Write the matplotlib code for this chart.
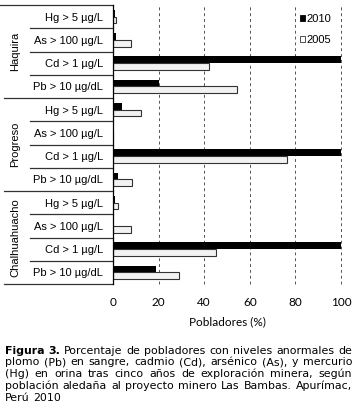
import matplotlib
matplotlib.use("Agg")
import matplotlib.pyplot as plt
from matplotlib.patches import Patch
from matplotlib.transforms import blended_transform_factory

W, H = 357, 420

GROUPS = ["Haquira", "Progreso", "Chalhuahuacho"]
METALS = ["Hg > 5 µg/L", "As > 100 µg/L", "Cd > 1 µg/L", "Pb > 10 µg/dL"]
V2010 = [0.8, 1.3, 100, 20.0, 4.1, 0, 100, 2.0, 0.9, 0, 100, 19.0]
V2005 = [1.3, 7.9, 42.1, 54.4, 12.3, 0, 76.1, 8.2, 2.0, 7.9, 45.3, 29.1]
XTICKS = [0, 20, 40, 60, 80, 100]
CAPTION = [
    "Figura 3. Porcentaje de pobladores con niveles anormales de",
    "plomo (Pb) en sangre, cadmio (Cd), arsénico (As), y mercurio",
    "(Hg) en orina tras cinco años de exploración minera, según",
    "población aledaña al proyecto minero Las Bambas. Apurímac,",
    "Perú 2010",
]
CAP_FS = 7.9

plt.rcParams["font.family"] = ["Liberation Sans", "DejaVu Sans"]

fig = plt.figure(figsize=(W / 100, H / 100), dpi=100)
ax = fig.add_axes([113 / W, 1 - 284 / H, 228 / W, 279 / H])

labels = METALS * len(GROUPS)
n = len(labels)
y = list(range(n))
bh = 0.29
ax.barh([i - bh / 2 for i in y], V2010, height=bh, color="black", linewidth=0)
ax.barh([i + bh / 2 for i in y], V2005, height=bh, color="#f2f2f2",
        edgecolor="#333333", linewidth=0.8)

ax.set_ylim(n - 0.5, -0.5)
ax.set_xlim(0, 100)
for x in XTICKS[1:]:
    ax.axvline(x, color="#555555", lw=0.7, ls=(0, (3, 3)), clip_on=False, zorder=0)

for s in ["top", "right", "bottom"]:
    ax.spines[s].set_visible(False)
ax.spines["left"].set_linewidth(0.9)

ax.set_yticks(y)
ax.set_yticklabels(labels, fontsize=8)
ax.tick_params(axis="y", length=0, pad=7)
ax.set_xticks(XTICKS)
ax.set_xticklabels([str(t) for t in XTICKS], fontsize=8.5, family="Lato")
ax.tick_params(axis="x", length=0, pad=9)
ax.set_xlabel("Pobladores (%)", fontsize=8.5, family="Lato")
ax.xaxis.set_label_coords(0.5, (284 - 321.7) / 279)
ax.xaxis.label.set_va("center")

# separator lines in the label column
tr = blended_transform_factory(fig.transFigure, ax.transData)
x_axis = 113 / W
for k in range(n + 1):
    if k == 0:
        x0 = 0
    elif k % 4 == 0:
        x0 = 4 / W
    else:
        x0 = 30 / W
    ax.plot([x0, x_axis], [k - 0.5, k - 0.5], transform=tr, color="#333333",
            lw=0.9, clip_on=False)

for g, name in enumerate(GROUPS):
    ax.text(15 / W, g * 4 + 1.5, name, transform=tr, rotation=90,
            ha="center", va="center", fontsize=8)

handles = [Patch(facecolor="black", edgecolor="black", lw=0.6),
           Patch(facecolor="white", edgecolor="#333333", lw=0.6)]
fig.legend(handles, ["2010", "2005"], loc="upper left",
           bbox_to_anchor=(300 / W, 1 - 14 / H), frameon=False, fontsize=8,
           handlelength=0.45, handleheight=0.45, handletextpad=0.15,
           labelspacing=1.0, borderpad=0, borderaxespad=0)

# justified caption
renderer = fig.canvas.get_renderer()


def text_width(s, **kw):
    t = fig.text(0, 0, s, fontsize=CAP_FS, family="DejaVu Sans", **kw)
    w = t.get_window_extent(renderer).width / W
    t.remove()
    return w


left, right = 5 / W, 352 / W
line_y = [350.5, 362.3, 374.1, 385.9, 397.7]
nat_space = text_width("a a") - text_width("aa")
for li, line in enumerate(CAPTION):
    words = line.split(" ")
    yy = 1 - line_y[li] / H
    weights = ["bold" if (li == 0 and wi < 2) else "normal" for wi in range(len(words))]
    widths = [text_width(w, fontweight=wt) for w, wt in zip(words, weights)]
    if li < len(CAPTION) - 1 and len(words) > 1:
        gap = (right - left - sum(widths)) / (len(words) - 1)
    else:
        gap = nat_space
    x = left
    for w, wt, wd in zip(words, weights, widths):
        fig.text(x, yy, w, fontsize=CAP_FS, family="DejaVu Sans", va="center",
                 ha="left", fontweight=wt)
        x += wd + gap

fig.savefig("out.png", dpi=100)
